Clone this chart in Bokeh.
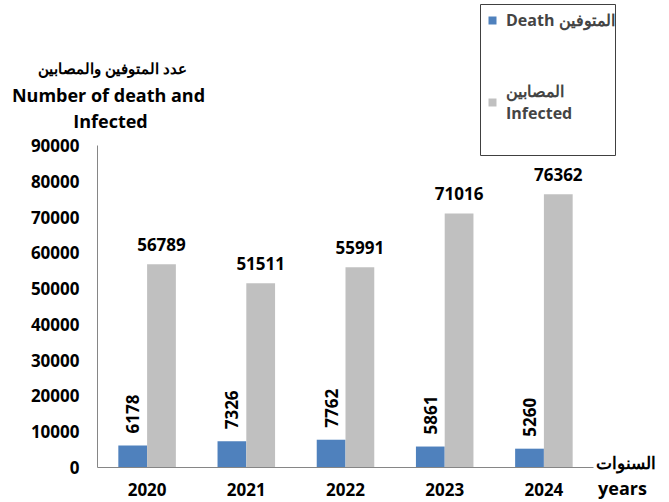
from bokeh.plotting import figure
from bokeh.models import (ColumnDataSource, Range1d, FixedTicker, BoxAnnotation,
                          Label, LabelSet, Legend, LegendItem)
from bokeh.core.properties import value
from bokeh.embed import file_html
from bokeh.resources import INLINE
import math

years = ["2020", "2021", "2022", "2023", "2024"]
deaths = [6178, 7326, 7762, 5861, 5260]
infected = [56789, 51511, 55991, 71016, 76362]
y_ticks = [0, 10000, 20000, 30000, 40000, 50000, 60000, 70000, 80000, 90000]

FONT = "Open Sans"
BLUE = "#4F81BD"
GRAY = "#C0C0C0"
AXIS = "#868686"

W, H = 669, 502
BAR_W = 0.29

# pixel layout of the plotting area (canvas pixels)
AX_LEFT, AX_RIGHT = 97, 593      # x-axis line extent
AX_BOTTOM, AX_TOP = 467, 145     # y = 0 and y = 90000
YMAX = 90000
n = len(years)
cat_px = (AX_RIGHT - AX_LEFT) / n
val_px = (AX_BOTTOM - AX_TOP) / YMAX

xpos = [i + 0.5 for i in range(n)]
source = ColumnDataSource(dict(
    x_death=[x - BAR_W / 2 for x in xpos],
    x_inf=[x + BAR_W / 2 for x in xpos],
    deaths=deaths, infected=infected,
    deaths_lbl=[str(v) for v in deaths],
    infected_lbl=[str(v) for v in infected],
))

# frame covers the whole canvas; axes are drawn at fixed locations
p = figure(width=W, height=H, output_backend="svg", toolbar_location=None,
           title=None,
           x_range=Range1d(-AX_LEFT / cat_px, (W - AX_LEFT) / cat_px),
           y_range=Range1d(-(H - AX_BOTTOM) / val_px, AX_BOTTOM / val_px),
           min_border_left=0, min_border_right=0, min_border_top=0,
           min_border_bottom=0)
p.outline_line_color = None
p.grid.visible = False
p.background_fill_color = "white"
p.border_fill_color = "white"

r1 = p.vbar(x="x_death", top="deaths", width=BAR_W, source=source,
            fill_color=BLUE, line_color=None)
r2 = p.vbar(x="x_inf", top="infected", width=BAR_W, source=source,
            fill_color=GRAY, line_color=None)

p.add_layout(LabelSet(x="x_death", y="deaths", text="deaths_lbl", source=source,
                      angle=math.pi / 2, text_align="left",
                      text_baseline="middle", y_offset=12,
                      text_font=value(FONT), text_font_style="bold",
                      text_font_size="17px", text_color="black"))
p.add_layout(LabelSet(x="x_inf", y="infected", text="infected_lbl",
                      source=source, text_align="center",
                      text_baseline="middle", y_offset=20,
                      text_font=value(FONT), text_font_style="bold",
                      text_font_size="17px", text_color="black"))

for ax in (p.xaxis, p.yaxis):
    ax.axis_line_color = AXIS
    ax.axis_line_width = 1
    ax.major_tick_line_color = None
    ax.minor_tick_line_color = None
    ax.major_tick_out = 0
    ax.major_tick_in = 0
    ax.minor_tick_out = 0
    ax.major_label_text_font = FONT
    ax.major_label_text_font_style = "bold"
    ax.major_label_text_font_size = "17px"
    ax.major_label_text_color = "black"
    ax.fixed_location = 0
p.yaxis.ticker = FixedTicker(ticks=y_ticks)
p.yaxis.bounds = (0, YMAX)
p.yaxis.major_label_standoff = 18
p.xaxis.ticker = FixedTicker(ticks=xpos)
p.xaxis.major_label_overrides = {x: y for x, y in zip(xpos, years)}
p.xaxis.bounds = (0, n)
p.xaxis.major_label_standoff = 15


def add_text(txt, x, y, size="17px", align="center"):
    # x, y: canvas pixels from the top-left corner
    p.add_layout(Label(x=x, y=H - y, x_units="screen", y_units="screen",
                       text=txt, text_font=FONT, text_font_style="bold",
                       text_font_size=size, text_align=align,
                       text_baseline="middle", text_color="black"))


# y-axis title (three lines)
add_text("عدد المتوفين والمصابين", 112, 67, "15px")
add_text("Number of death and", 108, 94, "18px")
add_text("Infected", 110, 120, "18px")
# x-axis title
add_text("السنوات", 625, 462, "17px")
add_text("years", 622, 487, "18px")

# legend frame
p.add_layout(BoxAnnotation(left=(480 - AX_LEFT) / cat_px,
                           right=(615 - AX_LEFT) / cat_px,
                           top=(AX_BOTTOM - 4) / val_px,
                           bottom=(AX_BOTTOM - 155) / val_px,
                           fill_color=None, line_color="#404040",
                           line_width=1, line_alpha=1))

legend = Legend(items=[LegendItem(label="Death المتوفين", renderers=[r1]),
                       LegendItem(label="المصابين\nInfected", renderers=[r2])],
                location=(487, H - 124))
legend.label_text_font = FONT
legend.label_text_font_style = "bold"
legend.label_text_font_size = "16px"
legend.label_text_line_height = 1.5
legend.glyph_width = 10
legend.glyph_height = 10
legend.label_standoff = 9
legend.padding = 0
legend.margin = 0
legend.spacing = 49
legend.border_line_color = None
legend.background_fill_alpha = 0
p.add_layout(legend)

open("out.html", "w").write(file_html(p, INLINE))
